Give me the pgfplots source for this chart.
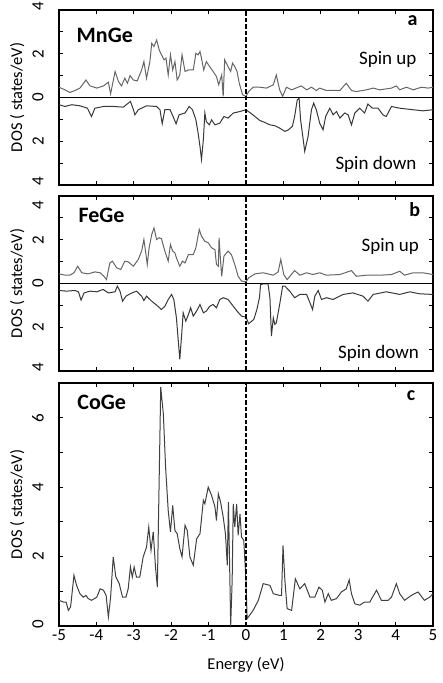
\documentclass[border=0pt]{standalone}
\usepackage{fontspec}
\setmainfont{Carlito}
\usepackage{pgfplots}
\pgfplotsset{compat=1.18}

% density of states, one panel per compound
\pgfplotsset{
  dos/.style={
    scale only axis, width=374pt,
    xmin=-5, xmax=5, xtick={-5,...,5},
    tick align=inside, tick pos=both, major tick length=4pt,
    axis line style={line width=1.2pt},
    every tick/.style={black, line width=0.8pt},
    tick label style={font=\fontsize{17}{19}\selectfont},
    label style={font=\fontsize{16.5}{19}\selectfont},
    yticklabel style={rotate=90, anchor=center, yshift=21pt},
    ylabel={DOS ( states/eV)},
    ylabel style={at={(axis description cs:-0.112,0.5)}, anchor=center},
    clip=true,
  },
  spinpanel/.style={
    dos, height=175pt, ymin=-4, ymax=4,
    ytick={-4,...,4},
    xticklabels={},
  },
  up/.style={color=black!60, line width=1pt},
  down/.style={color=black!78, line width=1pt},
  ef/.style={black, line width=1.4pt, dash pattern=on 4.5pt off 2pt},
}
\tikzset{
  big/.style={font=\fontsize{22}{24}\selectfont\bfseries},
  lett/.style={font=\fontsize{20}{22}\selectfont\bfseries},
  spin/.style={font=\fontsize{19}{21}\selectfont},
}

\begin{document}
\begin{tikzpicture}[x=1pt,y=1pt]
\useasboundingbox (0,0) rectangle (442,683);

% ---- a: MnGe ----
\begin{axis}[spinpanel, at={(59pt,498pt)}, anchor=south west,
  yticklabels={\hspace*{8pt}4,,2,,0,,2,,\hspace*{8pt}4}]
\addplot[up] coordinates {
(-5.00,0.47) (-4.84,0.35) (-4.71,0.23) (-4.57,0.32) (-4.44,0.43) (-4.28,0.80) (-4.17,0.53) (-3.99,0.43) (-3.81,0.53) (-3.68,0.70) (-3.62,0.17) (-3.50,1.19) (-3.41,0.73) (-3.33,0.53) (-3.24,0.88) (-3.17,0.65) (-3.10,1.00) (-3.01,0.80) (-2.91,0.76) (-2.79,1.26) (-2.73,1.64) (-2.66,0.88) (-2.57,1.64) (-2.52,2.48) (-2.46,2.33) (-2.39,2.63) (-2.32,2.17) (-2.26,1.95) (-2.19,1.72) (-2.14,1.80) (-2.08,1.03) (-2.02,1.95) (-1.96,1.26) (-1.90,1.64) (-1.84,0.80) (-1.77,1.03) (-1.71,1.95) (-1.63,1.19) (-1.54,1.26) (-1.41,1.26) (-1.34,2.02) (-1.28,1.95) (-1.23,2.10) (-1.19,1.80) (-1.13,1.26) (-1.06,1.64) (-0.97,1.41) (-0.88,1.19) (-0.79,0.96) (-0.73,0.58) (-0.65,1.03) (-0.61,0.05) (-0.57,1.72) (-0.48,1.41) (-0.41,1.19) (-0.36,1.57) (-0.30,1.41) (-0.24,1.19) (-0.18,0.65) (-0.09,0.12) (0.00,0.05) (0.07,0.27) (0.19,0.47) (0.37,0.47) (0.55,0.43) (0.73,0.58) (0.81,1.03) (0.90,0.35) (0.98,0.05) (1.08,0.47) (1.22,0.35) (1.39,0.47) (1.48,0.53) (1.62,0.35) (1.75,0.47) (1.88,0.32) (1.97,0.43) (2.15,0.32) (2.51,0.32) (2.68,0.65) (2.82,0.32) (2.95,0.27) (3.22,0.35) (3.40,0.43) (3.58,0.35) (3.89,0.43) (4.02,0.53) (4.11,0.35) (4.29,0.47) (4.47,0.35) (4.69,0.47) (4.87,0.43) (5.00,0.47)
};
\addplot[down] coordinates {
(-5.00,-0.33) (-4.84,-0.41) (-4.66,-0.33) (-4.44,-0.38) (-4.24,-0.49) (-4.13,-0.87) (-4.04,-0.49) (-3.81,-0.41) (-3.55,-0.41) (-3.28,-0.44) (-3.15,-0.26) (-3.09,-0.18) (-3.01,-0.56) (-2.97,-0.79) (-2.88,-0.56) (-2.66,-0.38) (-2.39,-0.41) (-2.30,-0.56) (-2.24,-1.20) (-2.17,-0.56) (-2.03,-0.56) (-1.95,-0.87) (-1.87,-1.20) (-1.79,-0.79) (-1.63,-0.71) (-1.52,-0.41) (-1.43,-0.56) (-1.34,-1.02) (-1.28,-1.63) (-1.23,-2.24) (-1.19,-2.84) (-1.14,-1.93) (-1.10,-0.71) (-1.06,-1.10) (-0.98,-1.25) (-0.92,-1.02) (-0.83,-1.25) (-0.70,-1.17) (-0.59,-0.87) (-0.48,-0.94) (-0.34,-0.71) (-0.16,-0.64) (0.00,-0.56) (0.12,-0.71) (0.24,-0.87) (0.37,-1.05) (0.50,-1.14) (0.64,-1.25) (0.77,-1.29) (0.90,-1.40) (1.04,-1.55) (1.13,-1.48) (1.24,-1.32) (1.30,-0.87) (1.37,-0.11) (1.42,-0.03) (1.46,-1.02) (1.53,-1.93) (1.57,-2.46) (1.66,-1.78) (1.75,-0.56) (1.81,-0.26) (1.88,-0.56) (1.97,-1.17) (2.06,-1.48) (2.13,-0.87) (2.24,-0.49) (2.33,-0.79) (2.42,-0.64) (2.51,-0.94) (2.64,-0.71) (2.73,-0.79) (2.82,-1.25) (2.91,-0.71) (3.04,-0.49) (3.17,-0.71) (3.26,-0.30) (3.38,-0.49) (3.53,-0.49) (3.66,-0.79) (3.75,-0.87) (3.89,-0.41) (4.11,-0.49) (4.47,-0.56) (4.73,-0.61) (5.00,-0.56)
};
\addplot[black, line width=1.1pt] coordinates {(-5,0) (5,0)};
\addplot[ef] coordinates {(0,-4) (0,4)};
\node[big, anchor=base west] at (axis description cs:0.038,0.817) {MnGe};
\node[lett, anchor=base east] at (axis description cs:0.968,0.909) {a};
\node[spin, anchor=base east] at (axis description cs:0.965,0.69) {Spin up};
\node[spin, anchor=base east] at (axis description cs:0.965,0.086) {Spin down};
\end{axis}

% ---- b: FeGe ----
\begin{axis}[spinpanel, at={(59pt,312pt)}, anchor=south west,
  yticklabels={\hspace*{8pt}4,,2,,0,,2,,4\hspace*{18pt}}]
\addplot[up] coordinates {
(-5.00,0.44) (-4.84,0.38) (-4.71,0.38) (-4.60,0.49) (-4.50,0.79) (-4.39,0.49) (-4.22,0.44) (-4.04,0.53) (-3.90,0.49) (-3.80,0.33) (-3.73,0.18) (-3.64,0.94) (-3.57,1.02) (-3.46,0.72) (-3.35,0.64) (-3.24,1.02) (-3.15,0.99) (-3.01,0.79) (-2.88,1.10) (-2.79,1.48) (-2.73,2.01) (-2.68,1.40) (-2.64,0.87) (-2.59,1.63) (-2.52,2.24) (-2.46,2.54) (-2.39,2.01) (-2.32,2.09) (-2.26,2.05) (-2.17,1.48) (-2.08,1.02) (-2.02,1.78) (-1.96,1.48) (-1.90,1.40) (-1.86,1.17) (-1.77,0.79) (-1.70,1.02) (-1.63,0.94) (-1.54,1.32) (-1.41,1.32) (-1.34,1.63) (-1.25,2.47) (-1.19,2.16) (-1.10,1.93) (-1.01,1.86) (-0.92,1.63) (-0.83,1.55) (-0.79,0.87) (-0.74,0.79) (-0.72,2.09) (-0.68,1.02) (-0.65,0.33) (-0.59,1.25) (-0.48,1.48) (-0.39,1.32) (-0.30,0.87) (-0.21,0.33) (-0.12,0.11) (0.00,0.08) (0.07,0.26) (0.24,0.44) (0.46,0.49) (0.73,0.38) (0.86,0.53) (0.93,1.10) (1.01,0.41) (1.10,0.18) (1.30,0.59) (1.44,0.38) (1.62,0.49) (1.79,0.41) (1.97,0.49) (2.15,0.38) (2.51,0.41) (2.82,0.59) (2.95,0.33) (3.22,0.38) (3.58,0.38) (3.89,0.41) (4.11,0.56) (4.24,0.38) (4.47,0.49) (4.73,0.49) (5.00,0.41)
};
\addplot[down] coordinates {
(-5.00,-0.32) (-4.80,-0.35) (-4.57,-0.32) (-4.48,-0.38) (-4.41,-0.76) (-4.33,-0.43) (-4.17,-0.35) (-3.99,-0.38) (-3.82,-0.27) (-3.68,-0.43) (-3.50,-0.38) (-3.44,-0.12) (-3.37,-0.35) (-3.30,-0.81) (-3.21,-0.58) (-3.10,-0.47) (-2.93,-0.35) (-2.79,-0.58) (-2.73,-0.78) (-2.66,-0.58) (-2.52,-0.81) (-2.39,-0.99) (-2.26,-1.19) (-2.17,-1.04) (-2.08,-0.73) (-1.99,-0.50) (-1.93,-0.73) (-1.86,-1.57) (-1.81,-2.63) (-1.77,-3.47) (-1.72,-2.33) (-1.68,-1.34) (-1.61,-1.72) (-1.54,-1.42) (-1.48,-1.11) (-1.41,-1.49) (-1.32,-1.26) (-1.23,-0.96) (-1.14,-1.34) (-1.06,-1.26) (-0.97,-1.04) (-0.88,-0.96) (-0.79,-1.11) (-0.70,-0.73) (-0.61,-0.65) (-0.48,-0.73) (-0.34,-1.04) (-0.24,-1.26) (-0.12,-1.49) (0.00,-1.54) (0.07,-1.84) (0.21,-1.64) (0.29,-1.19) (0.36,-0.65) (0.39,-0.05) (0.46,-0.02) (0.59,-0.02) (0.64,-0.65) (0.68,-2.40) (0.73,-1.57) (0.77,-1.87) (0.81,-1.80) (0.90,-0.96) (0.98,-0.12) (1.04,-0.12) (1.17,-0.35) (1.30,-0.65) (1.44,-0.50) (1.62,-0.50) (1.71,-0.88) (1.78,-1.19) (1.84,-0.58) (1.93,-0.32) (2.02,-0.73) (2.15,-0.65) (2.33,-0.73) (2.60,-0.50) (2.86,-0.43) (3.13,-0.58) (3.26,-0.81) (3.40,-0.50) (3.75,-0.38) (4.11,-0.50) (4.38,-0.38) (4.64,-0.47) (5.00,-0.50)
};
\addplot[black, line width=1.1pt] coordinates {(-5,0) (5,0)};
\addplot[ef] coordinates {(0,-4) (0,4)};
\node[big, anchor=base west] at (axis description cs:0.043,0.846) {FeGe};
\node[lett, anchor=base east] at (axis description cs:0.975,0.88) {b};
\node[spin, anchor=base east] at (axis description cs:0.972,0.68) {Spin up};
\node[spin, anchor=base east] at (axis description cs:0.972,0.069) {Spin down};
\end{axis}

% ---- c: CoGe ----
\begin{axis}[dos, height=243pt, at={(59pt,57pt)}, anchor=south west,
  ymin=0, ymax=7, ytick={0,...,6}, yticklabels={\hspace*{4pt}0,,2,,4,,6},
  xticklabels={-5,-4,-3,-2,-1,0,1,2,3,4,5},
  xlabel={Energy (eV)},
  xlabel style={at={(axis description cs:0.5,-0.16)}, anchor=center}]
\addplot[color=black!75, line width=1pt] coordinates {
(-5.00,0.74) (-4.88,0.69) (-4.81,0.69) (-4.75,0.45) (-4.69,0.55) (-4.60,1.46) (-4.53,1.17) (-4.44,0.93) (-4.35,0.83) (-4.28,0.88) (-4.22,0.79) (-4.13,0.74) (-3.99,0.83) (-3.90,1.07) (-3.81,1.03) (-3.74,0.88) (-3.68,0.26) (-3.62,0.83) (-3.55,1.99) (-3.48,1.41) (-3.39,1.22) (-3.30,0.83) (-3.21,0.83) (-3.15,1.07) (-3.09,1.70) (-3.04,1.41) (-2.99,1.70) (-2.93,1.41) (-2.84,1.41) (-2.75,1.99) (-2.66,2.27) (-2.60,2.85) (-2.54,2.18) (-2.48,2.71) (-2.42,1.70) (-2.37,1.12) (-2.28,6.88) (-2.21,6.11) (-2.15,4.58) (-2.08,3.33) (-2.02,2.71) (-1.96,3.47) (-1.90,2.75) (-1.84,2.66) (-1.77,2.23) (-1.71,1.99) (-1.63,2.90) (-1.57,2.75) (-1.50,1.99) (-1.41,1.75) (-1.32,2.51) (-1.23,2.66) (-1.14,3.62) (-1.10,3.52) (-1.01,4.00) (-0.92,3.76) (-0.83,3.43) (-0.79,3.04) (-0.74,3.81) (-0.68,3.57) (-0.61,3.14) (-0.55,2.66) (-0.50,1.75) (-0.47,3.57) (-0.43,1.31) (-0.41,0.00) (-0.37,1.31) (-0.34,3.52) (-0.30,2.85) (-0.25,3.52) (-0.21,2.61) (-0.16,3.23) (-0.12,2.56) (-0.06,2.47) (0.00,1.31) (0.03,0.21) (0.19,0.45) (0.33,0.74) (0.46,1.22) (0.64,1.17) (0.73,0.93) (0.90,0.88) (0.95,0.88) (0.99,2.32) (1.04,1.31) (1.10,0.50) (1.22,0.45) (1.32,1.36) (1.44,1.07) (1.57,1.22) (1.71,0.83) (1.84,0.83) (1.95,1.12) (2.04,1.03) (2.11,0.69) (2.20,0.93) (2.28,0.74) (2.42,0.79) (2.55,0.98) (2.68,1.07) (2.76,1.33) (2.82,0.93) (2.91,0.64) (3.04,0.60) (3.17,0.69) (3.31,0.69) (3.49,1.03) (3.62,0.74) (3.80,0.74) (3.89,0.83) (4.02,1.22) (4.11,0.93) (4.24,0.74) (4.42,0.88) (4.60,0.98) (4.77,0.74) (4.91,0.83) (5.00,0.93)
};
\addplot[ef] coordinates {(0,0) (0,7)};
\node[big, anchor=base west] at (axis description cs:0.04,0.893) {CoGe};
\node[lett, anchor=base east] at (axis description cs:0.962,0.926) {c};
\end{axis}
\end{tikzpicture}
\end{document}
